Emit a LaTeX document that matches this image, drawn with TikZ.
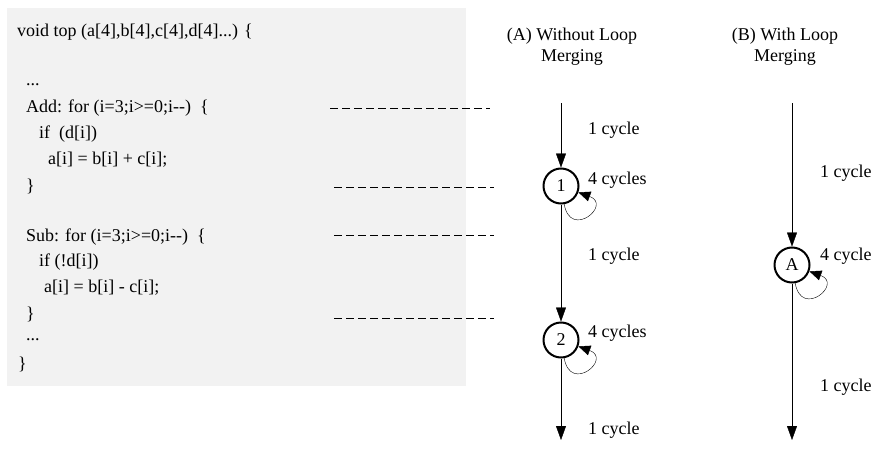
\documentclass[tikz,border=0pt]{standalone}
\usepackage{fontspec}
\setmainfont{Liberation Serif}
\usetikzlibrary{arrows.meta}
\definecolor{codebg}{HTML}{F2F2F2}

\begin{document}
\begin{tikzpicture}[x=1pt,y=1pt,font=\fontsize{18}{21}\selectfont,
  code/.style={anchor=west,inner sep=0pt},
  lbl/.style={anchor=west,inner sep=0pt},
  title/.style={align=center,inner sep=0pt,font=\fontsize{18}{21}\selectfont},
  state/.style={circle,draw,line width=2pt,minimum size=35pt,inner sep=0pt},
  flow/.style={-{Triangle[width=10pt,length=14pt]}},
  selfloop/.style={-{Triangle[width=10pt,length=12pt]}},
  guide/.style={dash pattern=on 8pt off 4pt}]
\useasboundingbox (0,0) rectangle (889,451);
\fill[codebg] (7,65) rectangle (466,443);
\node[code] (sig) at (17,419) {void top (a[4],b[4],c[4],d[4]...) \{};
\node[code] (dotsa) at (26,366) {...};
\node[code] (addfor) at (26,343) {Add: for (i=3;i>=0;i-{}-)\ \ \{};
\node[code] (addif) at (39,317) {if\ \ (d[i])};
\node[code] (addbody) at (48,291) {a[i] = b[i] + c[i];};
\node[code] (addend) at (26,265) {\}};
\node[code] (subfor) at (26,214) {Sub: for (i=3;i>=0;i-{}-)\ \ \{};
\node[code] (subif) at (39,189) {if (!d[i])};
\node[code] (subbody) at (44,163) {a[i] = b[i] - c[i];};
\node[code] (subend) at (26,137) {\}};
\node[code] (dotsb) at (26,111) {...};
\node[code] (sigend) at (18,87) {\}};
\draw[guide] (330,343) -- (490,343);
\draw[guide] (334,264) -- (494,264);
\draw[guide] (334,216) -- (494,216);
\draw[guide] (334,133) -- (494,133);
% without merging
\node[title] (ta) at (572,404) {(A) Without Loop\\Merging};
\coordinate (a0) at (561,348);
\node[state] (n1) at (561,265) {1};
\node[state] (n2) at (561,111) {2};
\coordinate (a3) at (561,11);
\draw[flow] (a0) -- (n1);
\draw[flow] (n1) -- (n2);
\draw[flow] (n2) -- (a3);
\draw[selfloop] (n1.-80) to[out=-80,in=-20,looseness=5] (n1.-20);
\draw[selfloop] (n2.-80) to[out=-80,in=-20,looseness=5] (n2.-20);
\node[lbl] (ca1) at (588,321) {1 cycle};
\node[lbl] (ca2) at (588,271) {4 cycles};
\node[lbl] (ca3) at (588,195) {1 cycle};
\node[lbl] (ca4) at (588,118) {4 cycles};
\node[lbl] (ca5) at (588,21) {1 cycle};
% with merging
\node[title] (tb) at (785,404) {(B) With Loop\\Merging};
\coordinate (b0) at (792,348);
\node[state] (nA) at (792,186) {A};
\coordinate (b3) at (792,11);
\draw[flow] (b0) -- (nA);
\draw[flow] (nA) -- (b3);
\draw[selfloop] (nA.-80) to[out=-80,in=-20,looseness=5] (nA.-20);
\node[lbl] (cb1) at (820,278) {1 cycle};
\node[lbl] (cb2) at (820,195) {4 cycle};
\node[lbl] (cb3) at (820,64) {1 cycle};
\end{tikzpicture}
\end{document}
